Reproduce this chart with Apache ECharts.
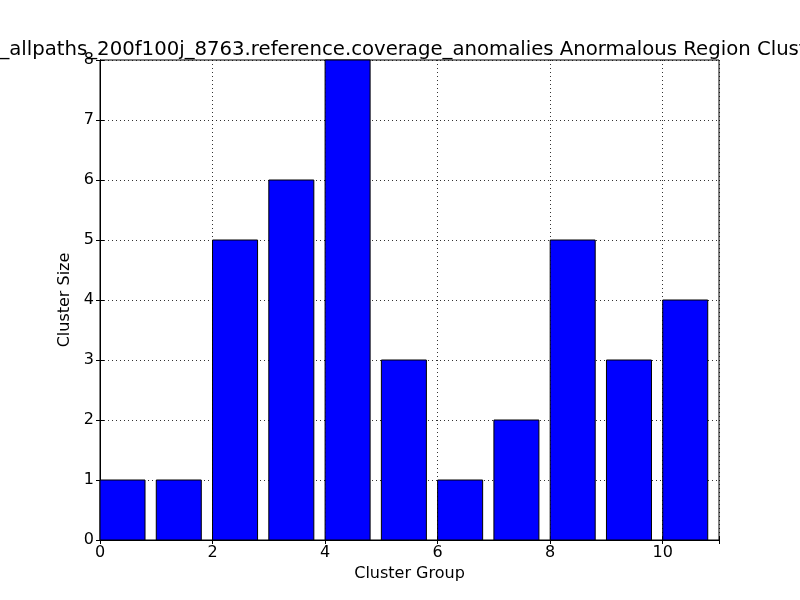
<!DOCTYPE html>
<html>
<head>
<meta charset="utf-8">
<script src="https://cdn.jsdelivr.net/npm/echarts@6/dist/echarts.min.js"></script>
<style>html,body{margin:0;padding:0;background:#fff}#c{width:800px;height:600px}</style>
</head>
<body>
<div id="c"></div>
<script>
const titleText = "_allpaths_200f100j_8763.reference.coverage_anomalies Anormalous Region Clust";
const clusterGroups = [0, 1, 2, 3, 4, 5, 6, 7, 8, 9, 10];
const clusterSizes = [1, 1, 5, 6, 8, 3, 1, 2, 5, 3, 4];
const barWidthUnits = 0.8;
const xTicks = [0, 2, 4, 6, 8, 10];
const yTicks = [0, 1, 2, 3, 4, 5, 6, 7, 8];

const font = "DejaVu Sans";
const chart = echarts.init(document.getElementById('c'), null, {renderer: 'canvas'});
const data = clusterGroups.map((g, i) => [g, clusterSizes[i]]);

const axisCommon = {
  axisLine: {show: true, lineStyle: {color: '#000', width: 1}},
  axisTick: {show: true, inside: true, length: 4, lineStyle: {color: '#000'}},
  splitLine: {show: false}
};

chart.setOption({
  animation: false,
  backgroundColor: '#fff',
  title: {
    text: titleText, left: 398, top: 35, textAlign: 'center',
    textStyle: {fontFamily: font, fontSize: 19.7, fontWeight: 'normal', color: '#000'}
  },
  grid: {left: 100, right: 81, top: 60, bottom: 60, show: true, borderColor: '#000', borderWidth: 1, backgroundColor: 'transparent'},
  xAxis: [
    Object.assign({}, axisCommon, {
      type: 'value', min: 0, max: 11, interval: 2, position: 'bottom',
      name: 'Cluster Group', nameLocation: 'middle', nameGap: 23,
      nameTextStyle: {fontFamily: font, fontSize: 16, color: '#000'},
      axisLabel: {fontFamily: font, fontSize: 16, color: '#000', margin: 5,
        formatter: v => xTicks.includes(v) ? String(v) : ''},
      splitLine: {show: true, lineStyle: {color: '#000', type: [1, 3], width: 0.8}}
    }),
    Object.assign({}, axisCommon, {
      type: 'value', min: 0, max: 11, interval: 2, position: 'top',
      axisLabel: {show: false}
    })
  ],
  yAxis: [
    Object.assign({}, axisCommon, {
      type: 'value', min: 0, max: 8, interval: 1, position: 'left',
      name: 'Cluster Size', nameLocation: 'middle', nameGap: 22,
      nameTextStyle: {fontFamily: font, fontSize: 16, color: '#000'},
      axisLabel: {fontFamily: font, fontSize: 16, color: '#000', margin: 6,
        formatter: v => yTicks.includes(v) ? String(v) : ''},
      splitLine: {show: true, lineStyle: {color: '#000', type: [1, 3], width: 0.8}}
    }),
    Object.assign({}, axisCommon, {
      type: 'value', min: 0, max: 8, interval: 1, position: 'right',
      axisLabel: {show: false}
    })
  ],
  series: [{
    type: 'custom',
    xAxisIndex: 0, yAxisIndex: 0,
    data: data,
    encode: {x: 0, y: 1},
    z: 3,
    renderItem: function (params, api) {
      const x0 = api.value(0), v = api.value(1);
      const p1 = api.coord([x0, v]);
      const p2 = api.coord([x0 + barWidthUnits, 0]);
      return {
        type: 'rect',
        shape: {x: p1[0], y: p1[1], width: p2[0] - p1[0], height: p2[1] - p1[1]},
        style: {fill: '#0000ff', stroke: '#000', lineWidth: 1}
      };
    }
  }]
});
</script>
</body>
</html>
